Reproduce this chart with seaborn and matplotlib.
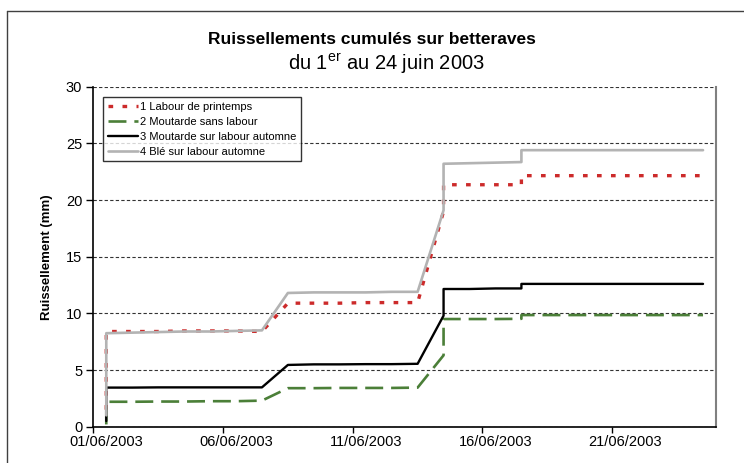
import matplotlib
matplotlib.use('Agg')
import matplotlib.pyplot as plt
from matplotlib.lines import Line2D
import seaborn as sns
import pandas as pd

sns.set_theme(style='white')
plt.rcParams['font.family'] = ['Liberation Sans', 'DejaVu Sans']
plt.rcParams['mathtext.fontset'] = 'custom'
plt.rcParams['mathtext.rm'] = 'Liberation Sans'

# ---------------- data ----------------
dates = ['2003-06-01 12:00', '2003-06-01 12:00', '2003-06-02 12:00', '2003-06-03 12:00',
         '2003-06-04 12:00', '2003-06-05 12:00', '2003-06-06 12:00', '2003-06-07 12:00',
         '2003-06-08 12:00', '2003-06-09 12:00', '2003-06-10 12:00', '2003-06-11 12:00',
         '2003-06-12 12:00', '2003-06-13 12:00', '2003-06-14 12:00', '2003-06-14 12:00',
         '2003-06-15 12:00', '2003-06-16 12:00', '2003-06-17 12:00', '2003-06-17 12:00',
         '2003-06-18 12:00', '2003-06-19 12:00', '2003-06-20 12:00', '2003-06-21 12:00',
         '2003-06-22 12:00', '2003-06-23 12:00', '2003-06-24 12:00']

labour_printemps = [1.5, 8.4, 8.4, 8.4, 8.45, 8.45, 8.45, 8.4,
                    10.9, 10.9, 10.9, 10.95, 10.95, 10.95, 19.0, 21.35,
                    21.35, 21.35, 21.35, 22.15, 22.15, 22.15, 22.15, 22.15,
                    22.15, 22.15, 22.15]
moutarde_sans_labour = [0.2, 2.2, 2.2, 2.22, 2.22, 2.25, 2.25, 2.3,
                        3.4, 3.4, 3.42, 3.42, 3.42, 3.45, 6.3, 9.5,
                        9.5, 9.5, 9.52, 9.85, 9.85, 9.85, 9.85, 9.85,
                        9.85, 9.85, 9.85]
moutarde_labour_automne = [0.5, 3.45, 3.45, 3.47, 3.47, 3.47, 3.47, 3.47,
                           5.45, 5.5, 5.5, 5.52, 5.52, 5.55, 9.8, 12.15,
                           12.15, 12.2, 12.2, 12.6, 12.6, 12.6, 12.6, 12.6,
                           12.6, 12.6, 12.6]
ble_labour_automne = [1.0, 8.25, 8.3, 8.35, 8.4, 8.4, 8.45, 8.5,
                      11.8, 11.85, 11.85, 11.85, 11.9, 11.9, 19.1, 23.2,
                      23.25, 23.3, 23.35, 24.4, 24.4, 24.4, 24.4, 24.4,
                      24.4, 24.4, 24.4]

series_names = ['1 Labour de printemps', '2 Moutarde sans labour',
                '3 Moutarde sur labour automne', '4 Blé sur labour automne']
series_values = [labour_printemps, moutarde_sans_labour,
                 moutarde_labour_automne, ble_labour_automne]

title = 'Ruissellements cumulés sur betteraves'
subtitle = r'du 1$^{\rm er}$ au 24 juin 2003'
ylabel = 'Ruissellement (mm)'
tick_dates = ['2003-06-01', '2003-06-06', '2003-06-11', '2003-06-16', '2003-06-21']

# ---------------- styles ----------------
styles = [
    dict(color='#CC2B2B', lw=2.4, linestyle=(0, (1.4, 2.8))),
    dict(color='#4B7F38', lw=1.9, linestyle=(0, (6.8, 3.0))),
    dict(color='#000000', lw=1.7, linestyle='-'),
    dict(color='#B3B3B3', lw=1.9, linestyle='-'),
]

fig = plt.figure(figsize=(7.44, 4.63), dpi=100)
ax = fig.add_axes([93.3 / 744, 1 - 426.7 / 463, (716 - 93.3) / 744, (426.7 - 86.7) / 463])

x = pd.to_datetime(dates)
for name, vals, st in zip(series_names, series_values, styles):
    df = pd.DataFrame({'date': x, 'val': vals})
    sns.lineplot(data=df, x='date', y='val', ax=ax, estimator=None, sort=False,
                 color=st['color'], lw=st['lw'], linestyle=st['linestyle'],
                 dash_capstyle='butt', label=name, legend=False)

ax.set_xlim(pd.Timestamp('2003-06-01'), pd.Timestamp('2003-06-25'))
ax.set_ylim(0, 30)
ax.set_yticks([0, 5, 10, 15, 20, 25, 30])

# major ticks at day boundaries (no labels), labels centred on the day
major = pd.to_datetime(tick_dates)
ax.set_xticks(major)
ax.set_xticklabels([])
ax.set_xticks(major + pd.Timedelta(hours=12), minor=True)
ax.set_xticklabels([d.strftime('%d/%m/%Y') for d in major], minor=True)
ax.tick_params(axis='x', which='major', direction='out', length=4, width=1, color='black', bottom=True)
ax.tick_params(axis='x', which='minor', length=0, labelsize=10.5, pad=6, colors='black', bottom=True)
ax.tick_params(axis='y', direction='out', length=5, width=1, color='black', left=True,
               labelsize=10.5, pad=3, labelcolor='black')

ax.yaxis.grid(True, linestyle=(0, (3, 2)), lw=0.8, color='#333333')
ax.xaxis.grid(False)
ax.set_axisbelow(True)

for s in ['left', 'bottom']:
    ax.spines[s].set_color('black')
    ax.spines[s].set_linewidth(1.2)
ax.spines['top'].set_visible(False)
ax.spines['right'].set_color('#808080')
ax.spines['right'].set_linewidth(1.5)

ax.set_xlabel('')
ax.set_ylabel(ylabel, fontsize=9.5, fontweight='bold', color='black', labelpad=9)

handles = [Line2D([], [], color=st['color'], lw=st['lw'], linestyle=st['linestyle'],
                  dash_capstyle='butt') for st in styles]
leg = ax.legend(handles, series_names, loc='upper left', bbox_to_anchor=(0.016, 0.969),
                borderaxespad=0, fontsize=8, handlelength=2.7, handletextpad=0.25,
                labelspacing=0.45, borderpad=0.4, frameon=True, fancybox=False)
leg.get_frame().set_edgecolor('black')
leg.get_frame().set_linewidth(1.0)
leg.get_frame().set_facecolor('white')
for t in leg.get_texts():
    t.set_color('black')

fig.text(0.5, 1 - 39 / 463, title, ha='center', va='center', fontsize=12.5, fontweight='bold', color='black')
fig.text(0.52, 1 - 64 / 463, subtitle, ha='center', va='center', fontsize=14.5, color='black')

# outer chart frame
fig.add_artist(Line2D([7.3 / 744, 7.3 / 744], [0, 1 - 10.7 / 463], transform=fig.transFigure,
                      color='#404040', lw=1.0))
fig.add_artist(Line2D([7.3 / 744, 1], [1 - 10.7 / 463, 1 - 10.7 / 463], transform=fig.transFigure,
                      color='#404040', lw=1.0))

fig.savefig('out.png', dpi=100, facecolor='white')
